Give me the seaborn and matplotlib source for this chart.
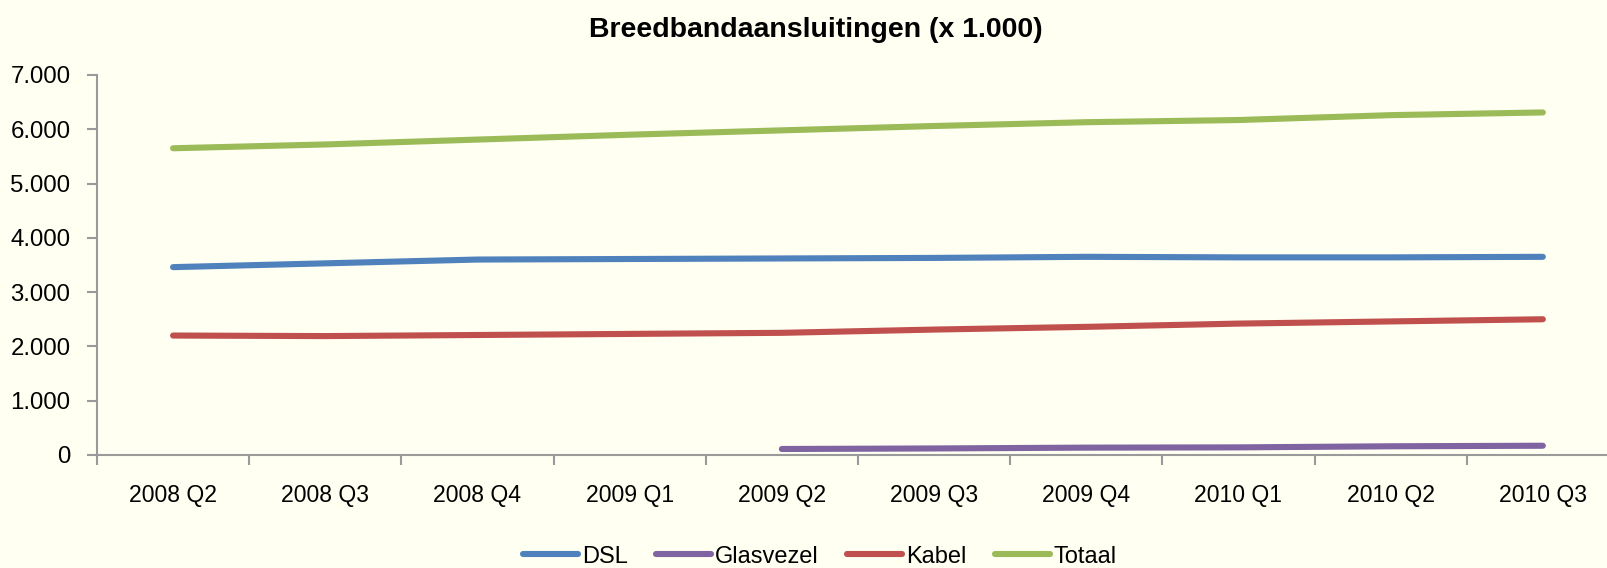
import numpy as np
import pandas as pd
import matplotlib
matplotlib.use("Agg")
import matplotlib.pyplot as plt
import seaborn as sns
from matplotlib.ticker import FuncFormatter, FixedLocator

kwartalen = ["2008 Q2", "2008 Q3", "2008 Q4", "2009 Q1", "2009 Q2",
             "2009 Q3", "2009 Q4", "2010 Q1", "2010 Q2", "2010 Q3"]
dsl = [3460, 3530, 3600, 3610, 3620, 3630, 3650, 3640, 3640, 3650]
glasvezel = [np.nan, np.nan, np.nan, np.nan, 110, 120, 135, 140, 160, 170]
kabel = [2200, 2190, 2210, 2230, 2250, 2310, 2360, 2420, 2460, 2500]
totaal = [5650, 5720, 5810, 5900, 5980, 6060, 6130, 6170, 6260, 6310]

series = {"DSL": dsl, "Glasvezel": glasvezel, "Kabel": kabel, "Totaal": totaal}
kleuren = {"DSL": "#4F81BD", "Glasvezel": "#8064A2", "Kabel": "#C0504D", "Totaal": "#9BBB59"}

rows = []
for naam, waarden in series.items():
    for i, v in enumerate(waarden):
        rows.append({"pos": i, "kwartaal": kwartalen[i], "serie": naam, "waarde": v})
df = pd.DataFrame(rows).dropna()

sns.set_style("ticks")
plt.rcParams["font.family"] = ["Liberation Sans", "DejaVu Sans"]
plt.rcParams["text.color"] = "black"
bg = "#FFFFF2"
axis_grey = "#9A9A9A"
lw = 4.4

fig = plt.figure(figsize=(16.08, 5.68), dpi=100, facecolor=bg)
ax = fig.add_axes([0.0603, 0.199, 0.9465, 0.669])
ax.set_facecolor(bg)

sns.lineplot(data=df, x="pos", y="waarde", hue="serie", palette=kleuren,
             linewidth=lw, ax=ax, legend=False, solid_capstyle="round")

ax.set_xlim(-0.5, 9.5)
ax.set_ylim(0, 7000)
ax.yaxis.set_major_locator(FixedLocator(range(0, 7001, 1000)))
ax.yaxis.set_major_formatter(FuncFormatter(lambda v, p: f"{int(v):,}".replace(",", ".")))

# category labels in the middle, tick marks between categories
ax.set_xticks(range(len(kwartalen)))
ax.set_xticklabels(kwartalen)
ax.set_xticks(np.arange(-0.5, len(kwartalen), 1.0), minor=True)
ax.tick_params(axis="x", which="major", bottom=True, length=0, pad=21, labelsize=16.6,
               labelcolor="black")
ax.tick_params(axis="x", which="minor", bottom=True, length=7, width=1.5, color=axis_grey,
               direction="out")
ax.tick_params(axis="y", which="major", left=True, length=7, width=1.5, color=axis_grey,
               direction="out", labelsize=17.3, pad=12, labelcolor="black")
ax.tick_params(axis="y", which="minor", left=False)

for s in ["top", "right"]:
    ax.spines[s].set_visible(False)
for s in ["left", "bottom"]:
    ax.spines[s].set_color(axis_grey)
    ax.spines[s].set_linewidth(1.5)
ax.set_xlabel("")
ax.set_ylabel("")

fig.text(0.5075, 0.948, "Breedbandaansluitingen (x 1.000)", ha="center", va="center",
         fontsize=20.5, fontweight="bold", color="black")

handles = [plt.Line2D([], [], color=kleuren[n], linewidth=lw, solid_capstyle="round")
           for n in series]
fig.legend(handles, list(series), loc="center", bbox_to_anchor=(0.51, 0.02), ncol=4,
           frameon=False, fontsize=17, handlelength=2.33, handletextpad=0.17,
           columnspacing=1.19, borderpad=0.2)

fig.savefig("out.png", dpi=100, facecolor=bg)
